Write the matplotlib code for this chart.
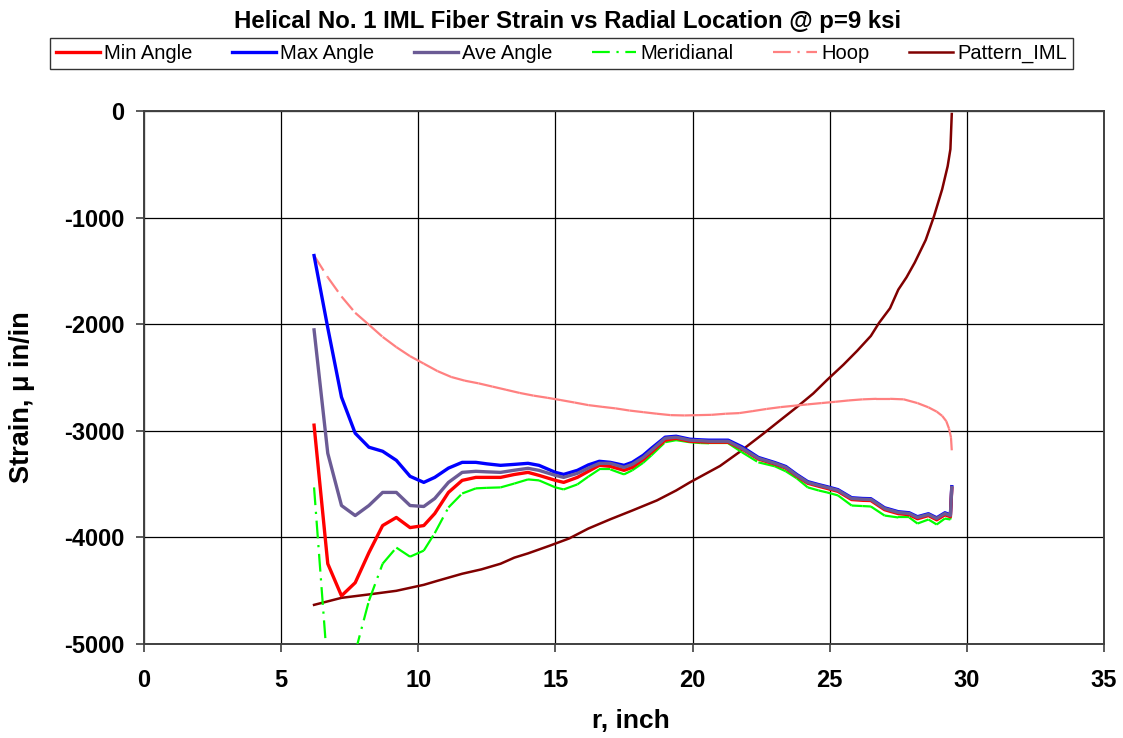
import matplotlib
matplotlib.use("Agg")
import matplotlib.pyplot as plt
from matplotlib.collections import LineCollection
from matplotlib.lines import Line2D
from matplotlib import font_manager
import numpy as np

avail = {f.name for f in font_manager.fontManager.ttflist}
BASE = "Liberation Sans" if "Liberation Sans" in avail else "DejaVu Sans"
plt.rcParams['font.family'] = [BASE, 'DejaVu Sans']
plt.rcParams['axes.unicode_minus'] = False

# ---------------- data ----------------
r = [6.2, 6.7, 7.2, 7.7, 8.2, 8.7, 9.2, 9.7, 10.2, 10.6, 11.1, 11.6, 12.1, 12.5,
     13.0, 13.5, 14.0, 14.4, 15.0, 15.3, 15.8, 16.2, 16.6, 17.0, 17.5, 17.8,
     18.2, 18.5, 19.0, 19.4, 19.9, 20.3, 20.6, 21.0, 21.3, 21.8, 22.4, 23.0,
     23.4, 23.8, 24.2, 24.6, 24.9, 25.3, 25.8, 26.2, 26.5, 27.0, 27.5, 27.9,
     28.2, 28.6, 28.9, 29.2, 29.4, 29.45]

min_angle = [-2947, -4247, -4548, -4425, -4143, -3889, -3813, -3908, -3889, -3776,
             -3578, -3465, -3437, -3437, -3437, -3410, -3390, -3418, -3465, -3484,
             -3437, -3380, -3324, -3333, -3371, -3343, -3270, -3201, -3088, -3070,
             -3098, -3103, -3107, -3107, -3107, -3170, -3265, -3312, -3350, -3425,
             -3492, -3520, -3540, -3568, -3645, -3652, -3654, -3740, -3777, -3787,
             -3825, -3795, -3835, -3788, -3806, -3540]

max_angle = [-1356, -2034, -2684, -3023, -3154, -3192, -3277, -3427, -3484, -3437,
             -3350, -3296, -3296, -3310, -3324, -3315, -3305, -3324, -3390, -3409,
             -3371, -3320, -3286, -3296, -3324, -3296, -3230, -3164, -3060, -3051,
             -3079, -3085, -3088, -3088, -3088, -3150, -3250, -3298, -3335, -3410,
             -3477, -3505, -3524, -3552, -3628, -3635, -3637, -3722, -3759, -3769,
             -3806, -3778, -3816, -3769, -3788, -3524]

ave_angle = [-2053, -3211, -3701, -3795, -3701, -3578, -3578, -3701, -3710, -3635,
             -3484, -3390, -3380, -3385, -3390, -3370, -3352, -3371, -3418, -3437,
             -3399, -3350, -3305, -3305, -3343, -3315, -3250, -3183, -3070, -3060,
             -3088, -3093, -3098, -3098, -3098, -3164, -3258, -3305, -3343, -3418,
             -3484, -3512, -3531, -3559, -3635, -3642, -3644, -3729, -3766, -3776,
             -3813, -3785, -3823, -3776, -3795, -3531]

meridianal = [-3531, -5250, -5800, -5080, -4595, -4247, -4096, -4181, -4124, -3960,
              -3719, -3588, -3540, -3535, -3531, -3495, -3456, -3465, -3531, -3550,
              -3503, -3430, -3362, -3362, -3409, -3371, -3300, -3230, -3107, -3088,
              -3107, -3115, -3117, -3117, -3117, -3201, -3296, -3333, -3380, -3446,
              -3531, -3560, -3578, -3606, -3701, -3706, -3710, -3795, -3813, -3813,
              -3870, -3832, -3879, -3823, -3832, -3531]

r_hoop = [6.2, 6.7, 7.2, 7.7, 8.2, 8.7, 9.2, 9.7, 10.2, 10.7, 11.2, 11.7, 12.2,
          12.7, 13.2, 13.7, 14.2, 14.7, 15.2, 15.7, 16.2, 16.7, 17.2, 17.7, 18.2,
          18.7, 19.2, 19.7, 20.2, 20.7, 21.2, 21.7, 22.2, 22.7, 23.2, 23.7, 24.2,
          24.7, 25.2, 25.7, 26.2, 26.7, 27.2, 27.7, 28.2, 28.6, 28.9, 29.1, 29.25,
          29.35, 29.42, 29.45]
hoop = [-1356, -1560, -1740, -1893, -2005, -2119, -2215, -2300, -2370, -2440,
        -2495, -2530, -2555, -2585, -2615, -2645, -2670, -2690, -2712, -2735,
        -2759, -2775, -2790, -2810, -2825, -2840, -2853, -2856, -2853, -2850,
        -2840, -2834, -2815, -2795, -2778, -2765, -2752, -2740, -2728, -2715,
        -2705, -2700, -2700, -2705, -2740, -2780, -2820, -2860, -2910, -2980,
        -3060, -3183]

r_pattern = [6.2, 7.2, 8.2, 9.2, 10.2, 10.7, 11.6, 12.3, 13.0, 13.5, 14.0, 14.8,
             15.5, 16.2, 17.0, 17.8, 18.7, 19.4, 19.9, 20.5, 21.0, 21.7, 22.6,
             23.2, 23.8, 24.4, 24.9, 25.5, 26.0, 26.5, 26.8, 27.2, 27.5, 27.8,
             28.1, 28.5, 28.8, 29.1, 29.3, 29.4, 29.45]
pattern_iml = [-4633, -4567, -4535, -4501, -4445, -4407, -4341, -4300, -4247, -4190,
               -4150, -4077, -4010, -3917, -3830, -3748, -3653, -3560, -3484, -3400,
               -3330, -3201, -3023, -2900, -2778, -2650, -2524, -2380, -2250, -2110,
               -1987, -1850, -1676, -1560, -1422, -1210, -989, -734, -518, -358, -28]

labels = ["Min Angle", "Max Angle", "Ave Angle", "Meridianal", "Hoop", "Pattern_IML"]
colors = ["#ff0000", "#0000ff", "#6b5b95", "#00ff00", "#ff8080", "#800000"]

title = "Helical No. 1 IML Fiber Strain vs Radial Location @ p=9 ksi"
xlabel = "r, inch"
ylabel = "Strain, \u03bc in/in"
xticks = [0, 5, 10, 15, 20, 25, 30, 35]
yticks = [0, -1000, -2000, -3000, -4000, -5000]

# ---------------- figure ----------------
W, H = 1123, 738
fig = plt.figure(figsize=(W / 100, H / 100), dpi=100)
ax = fig.add_axes([144 / W, 1 - 644 / H, (1104 - 144) / W, (644 - 111) / H])

ax.set_xlim(0, 35)
ax.set_ylim(-5000, 0)
ax.set_xticks(xticks)
ax.set_yticks(yticks)
ax.grid(True, color="black", linewidth=0.9, zorder=0)
ax.set_axisbelow(True)
for s in ax.spines.values():
    s.set_color("#404040")
    s.set_linewidth(1.4)
ax.tick_params(direction="out", length=6, width=1.2, color="#404040",
               labelsize=17)
ax.tick_params(axis="x", pad=12)
ax.tick_params(axis="y", pad=8)
for lab in ax.get_xticklabels() + ax.get_yticklabels():
    lab.set_fontweight("bold")


def dashed_segments(x, y, color, lw, dashes, z):
    pts = np.column_stack([x, y])
    segs = np.stack([pts[:-1], pts[1:]], axis=1)
    lc = LineCollection(segs, colors=color, linewidths=lw,
                        linestyles=[(0, dashes)], zorder=z, capstyle="butt")
    ax.add_collection(lc)


dd = (8, 3, 1, 3)
ax.plot(r_pattern, pattern_iml, color=colors[5], lw=1.8, zorder=3)
dashed_segments(r_hoop, hoop, colors[4], 1.6, dd, 3)
dashed_segments(r, meridianal, colors[3], 1.6, dd, 4)
ax.plot(r, max_angle, color=colors[1], lw=2.4, zorder=5)
ax.plot(r, min_angle, color=colors[0], lw=2.4, zorder=6)
ax.plot(r, ave_angle, color=colors[2], lw=2.4, zorder=7)

fig.text(631 / W, 1 - 721 / H, xlabel, ha="center", va="center", fontsize=19,
         fontweight="bold")
fig.text(22 / W, 1 - 397 / H, ylabel, ha="center", va="center", fontsize=19.5,
         fontweight="bold", rotation=90)

fig.text(568 / W, 1 - 28 / H, title, ha="center", va="baseline", fontsize=17.3,
         fontweight="bold")

handles = [
    Line2D([], [], color=colors[0], lw=2.4),
    Line2D([], [], color=colors[1], lw=2.4),
    Line2D([], [], color=colors[2], lw=2.4),
    Line2D([], [], color=colors[3], lw=1.6, linestyle=(0, dd)),
    Line2D([], [], color=colors[4], lw=1.6, linestyle=(0, dd)),
    Line2D([], [], color=colors[5], lw=1.8),
]
leg = fig.legend(handles, labels, loc="center", ncol=6,
                 bbox_to_anchor=(50 / W, 1 - 70 / H, (1073 - 50) / W, 33 / H),
                 mode="expand", borderaxespad=0, frameon=True, fancybox=False,
                 handlelength=2.2, handletextpad=0.2, columnspacing=1.0,
                 borderpad=0.3, prop={"size": 14.5})
leg.get_frame().set_edgecolor("black")
leg.get_frame().set_linewidth(1.0)

fig.savefig("out.png", dpi=100)
